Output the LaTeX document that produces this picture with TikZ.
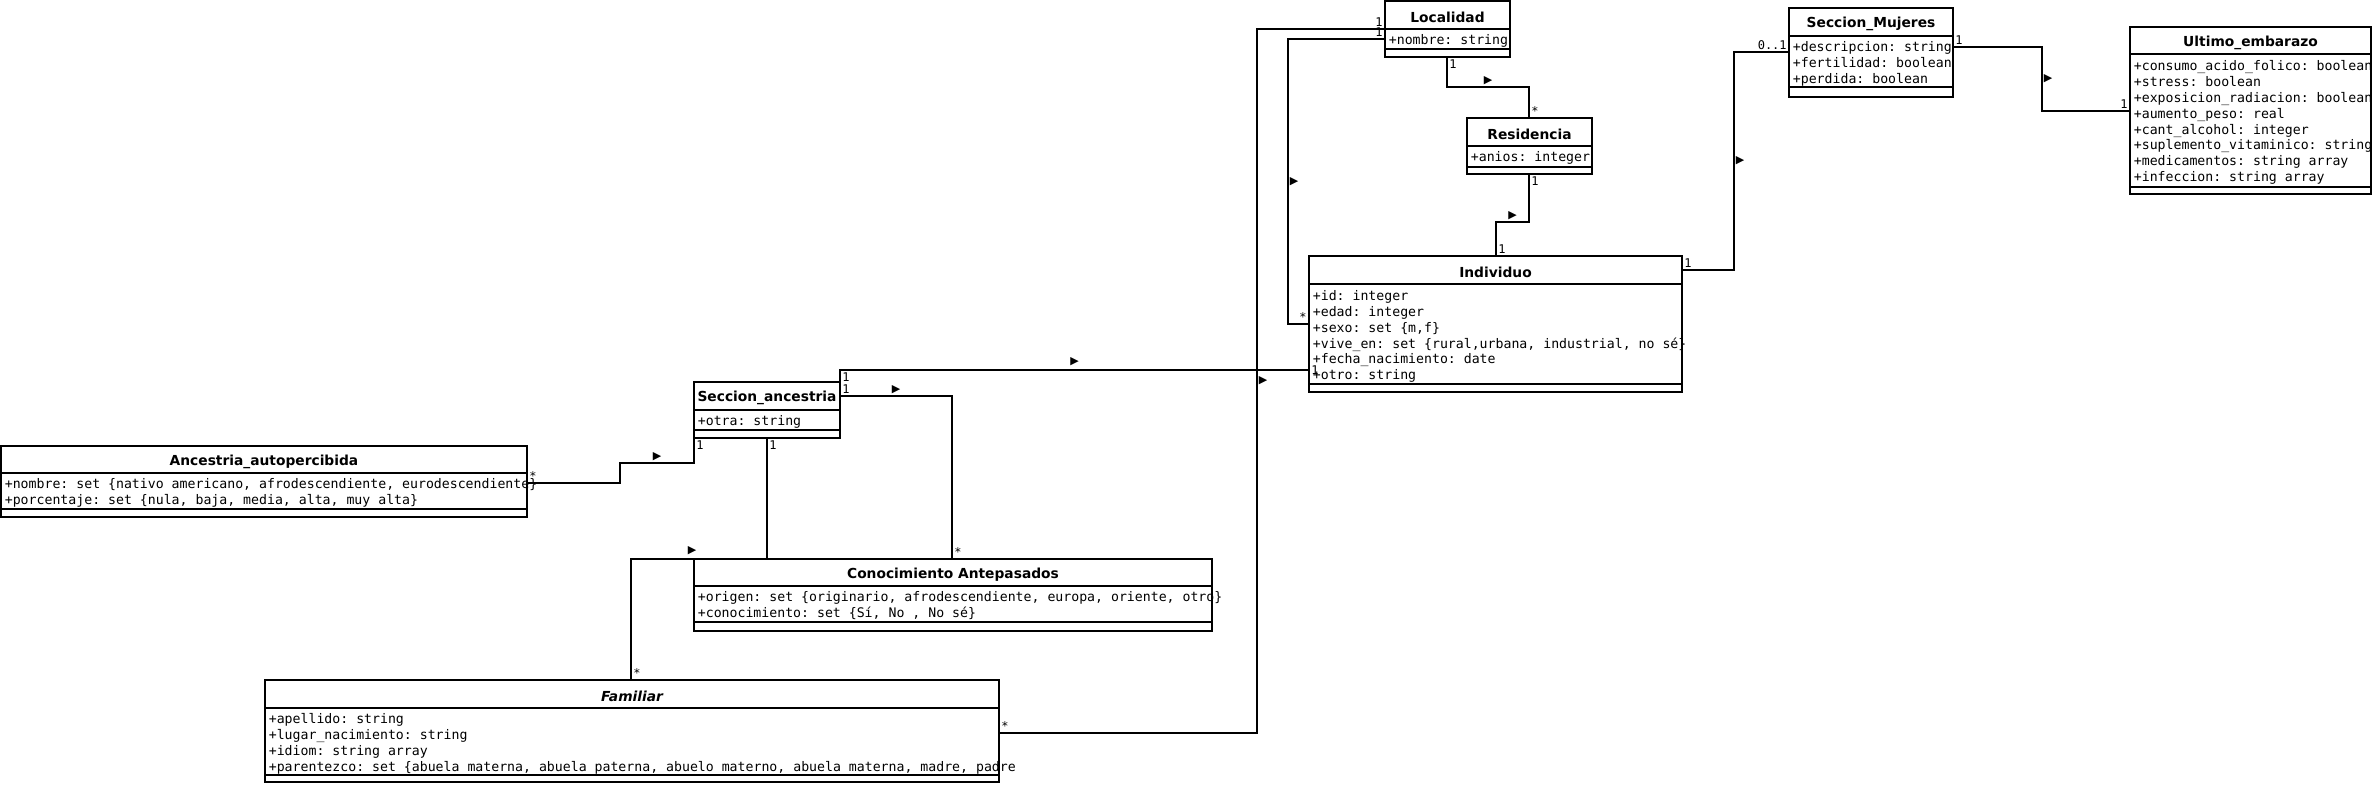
\documentclass[tikz,border=0pt]{standalone}
\usepackage{fontspec}
\setmainfont{DejaVu Sans}
\setmonofont{DejaVu Sans Mono}
\usetikzlibrary{calc}

\tikzset{every picture/.style={line width=1.7pt}}
\tikzset{
  clsbox/.style={draw, rectangle, anchor=north west, inner sep=0pt, outer sep=0pt},
  clsname/.style={inner sep=0pt, font=\fontsize{13.8}{16}\selectfont\bfseries},
  clsattr/.style={anchor=west, align=left, inner sep=0pt, font=\fontsize{13.2}{15.9}\selectfont\ttfamily},
  mult/.style={inner sep=1.5pt, font=\fontsize{12}{12}\selectfont\ttfamily},
  dirmark/.style={inner sep=1pt, font=\fontsize{11}{11}\selectfont},
}

\begin{document}
\begin{tikzpicture}[x=1pt,y=1pt,yscale=-1,xscale=1]
\useasboundingbox (0,0) rectangle (2373,784);

% Class: Localidad
\node[clsbox, minimum width=125pt, minimum height=56pt] (loc) at (1385,1) {};
\node[clsname] (locN) at ($(loc.north)+(0,16)$) {Localidad};
\draw ($(loc.north west)+(0,28)$) -- ($(loc.north east)+(0,28)$);
\draw ($(loc.north west)+(0,48)$) -- ($(loc.north east)+(0,48)$);
\node[clsattr] (locA) at ($(loc.north west)+(3,39.5)$) {+nombre: string};

% Class: Residencia
\node[clsbox, minimum width=125pt, minimum height=56pt] (res) at (1467,118) {};
\node[clsname] (resN) at ($(res.north)+(0,16)$) {Residencia};
\draw ($(res.north west)+(0,28)$) -- ($(res.north east)+(0,28)$);
\draw ($(res.north west)+(0,49)$) -- ($(res.north east)+(0,49)$);
\node[clsattr] (resA) at ($(res.north west)+(3,40)$) {+anios: integer};

% Class: Individuo
\node[clsbox, minimum width=373pt, minimum height=136pt] (ind) at (1309,256) {};
\node[clsname] (indN) at ($(ind.north)+(0,16)$) {Individuo};
\draw ($(ind.north west)+(0,28)$) -- ($(ind.north east)+(0,28)$);
\draw ($(ind.north west)+(0,128)$) -- ($(ind.north east)+(0,128)$);
\node[clsattr] (indA) at ($(ind.north west)+(3,80.5)$) {+id: integer\\+edad: integer\\+sexo: set \{m,f\}\\+vive\_en: set \{rural,urbana, industrial, no sé\}\\+fecha\_nacimiento: date\\+otro: string};

% Class: Seccion_Mujeres
\node[clsbox, minimum width=164pt, minimum height=89pt] (sm) at (1789,8) {};
\node[clsname] (smN) at ($(sm.north)+(0,16)$) {Seccion\_Mujeres};
\draw ($(sm.north west)+(0,28)$) -- ($(sm.north east)+(0,28)$);
\draw ($(sm.north west)+(0,79)$) -- ($(sm.north east)+(0,79)$);
\node[clsattr] (smA) at ($(sm.north west)+(3,55.5)$) {+descripcion: string\\+fertilidad: boolean\\+perdida: boolean};

% Class: Ultimo_embarazo
\node[clsbox, minimum width=241pt, minimum height=167pt] (ue) at (2130,27) {};
\node[clsname] (ueN) at ($(ue.north)+(0,15.5)$) {Ultimo\_embarazo};
\draw ($(ue.north west)+(0,27)$) -- ($(ue.north east)+(0,27)$);
\draw ($(ue.north west)+(0,160)$) -- ($(ue.north east)+(0,160)$);
\node[clsattr] (ueA) at ($(ue.north west)+(3,95.5)$) {+consumo\_acido\_folico: boolean\\+stress: boolean\\+exposicion\_radiacion: boolean\\+aumento\_peso: real\\+cant\_alcohol: integer\\+suplemento\_vitaminico: string\\+medicamentos: string array\\+infeccion: string array};

% Class: Seccion_ancestria
\node[clsbox, minimum width=146pt, minimum height=56pt] (sa) at (694,382) {};
\node[clsname] (saN) at ($(sa.north)+(0,16)$) {Seccion\_ancestria};
\draw ($(sa.north west)+(0,28)$) -- ($(sa.north east)+(0,28)$);
\draw ($(sa.north west)+(0,48)$) -- ($(sa.north east)+(0,48)$);
\node[clsattr] (saA) at ($(sa.north west)+(3,39.5)$) {+otra: string};

% Class: Ancestria_autopercibida
\node[clsbox, minimum width=526pt, minimum height=71pt] (aa) at (1,446) {};
\node[clsname] (aaN) at ($(aa.north)+(0,15.5)$) {Ancestria\_autopercibida};
\draw ($(aa.north west)+(0,27)$) -- ($(aa.north east)+(0,27)$);
\draw ($(aa.north west)+(0,63)$) -- ($(aa.north east)+(0,63)$);
\node[clsattr] (aaA) at ($(aa.north west)+(3,47)$) {+nombre: set \{nativo americano, afrodescendiente, eurodescendiente\}\\+porcentaje: set \{nula, baja, media, alta, muy alta\}};

% Class: Conocimiento Antepasados
\node[clsbox, minimum width=518pt, minimum height=72pt] (ca) at (694,559) {};
\node[clsname] (caN) at ($(ca.north)+(0,15.5)$) {Conocimiento Antepasados};
\draw ($(ca.north west)+(0,27)$) -- ($(ca.north east)+(0,27)$);
\draw ($(ca.north west)+(0,63)$) -- ($(ca.north east)+(0,63)$);
\node[clsattr] (caA) at ($(ca.north west)+(3,47)$) {+origen: set \{originario, afrodescendiente, europa, oriente, otro\}\\+conocimiento: set \{Sí, No , No sé\}};

% Class: Familiar
\node[clsbox, minimum width=734pt, minimum height=102pt] (fam) at (265,680) {};
\node[clsname, font=\fontsize{13.8}{16}\selectfont\bfseries\itshape] (famN) at ($(fam.north)+(0,16)$) {Familiar};
\draw ($(fam.north west)+(0,28)$) -- ($(fam.north east)+(0,28)$);
\draw ($(fam.north west)+(0,95)$) -- ($(fam.north east)+(0,95)$);
\node[clsattr] (famA) at ($(fam.north west)+(3,63.5)$) {+apellido: string\\+lugar\_nacimiento: string\\+idiom: string array\\+parentezco: set \{abuela materna, abuela paterna, abuelo materno, abuela materna, madre, padre};

% Connection
\draw ($(loc.south west)+(62,0)$) node[mult, anchor=north west] {1} -- ++(0,30)
  -- ($(res.north west)+(62,-31)$) node[dirmark, midway, above] {▶}
  -- ($(res.north west)+(62,0)$) node[mult, anchor=south west] {*};
% Connection
\draw ($(res.south west)+(62,0)$) node[mult, anchor=north west] {1} -- ++(0,48)
  -- ($(ind.north west)+(187,-34)$) node[dirmark, midway, above] {▶}
  -- ($(ind.north west)+(187,0)$) node[mult, anchor=south west] {1};
% Connection
\draw ($(loc.north west)+(0,38)$) node[mult, anchor=south east] {1} -- ++(-97,0)
  -- ($(ind.north west)+(-21,68)$) node[dirmark, midway, right] {▶}
  -- ($(ind.north west)+(0,68)$) node[mult, anchor=south east] {*};
% Connection
\draw ($(loc.north west)+(0,28)$) node[mult, anchor=south east] {1} -- ++(-128,0)
  -- ($(fam.north east)+(258,53)$) node[dirmark, midway, right] {▶}
  -- ($(fam.north east)+(0,53)$) node[mult, anchor=south west] {*};
% Connection
\draw ($(ind.north east)+(0,14)$) node[mult, anchor=south west] {1} -- ++(52,0)
  -- ($(sm.north west)+(-55,44)$) node[dirmark, midway, right] {▶}
  -- ($(sm.north west)+(0,44)$) node[mult, anchor=south east] {0..1};
% Connection
\draw ($(sm.north east)+(0,39)$) node[mult, anchor=south west] {1} -- ++(89,0)
  -- ($(ue.north west)+(-88,84)$) node[dirmark, midway, right] {▶}
  -- ($(ue.north west)+(0,84)$) node[mult, anchor=south east] {1};
% Connection
\draw (sa.north east) -- ++(0,-12) node[mult, anchor=north west] {1}
  -- ($(ind.north west)+(0,114)$) node[dirmark, midway, above=2pt] {▶}
  node[mult, anchor=west] {1};
% Connection
\draw ($(sa.north east)+(0,14)$) node[mult, anchor=south west] {1} -- ++(112,0)
  node[dirmark, midway, above] {▶}
  -- ($(ca.north west)+(258,0)$) node[mult, anchor=south west] {*};
% Connection
\draw ($(sa.south west)+(73,0)$) node[mult, anchor=north west] {1}
  -- ($(ca.north west)+(73,0)$)
  -- ($(ca.north west)+(-63,0)$) node[dirmark, pos=0.55, above=2pt] {▶}
  -- ($(fam.north west)+(366,0)$) node[mult, anchor=south west] {*};
% Connection
\draw ($(aa.north east)+(0,37)$) node[mult, anchor=south west] {*} -- ++(93,0) -- ++(0,-20)
  -- ($(sa.south west)+(0,25)$) node[dirmark, midway, above] {▶}
  -- (sa.south west) node[mult, anchor=north west] {1};

\end{tikzpicture}
\end{document}
